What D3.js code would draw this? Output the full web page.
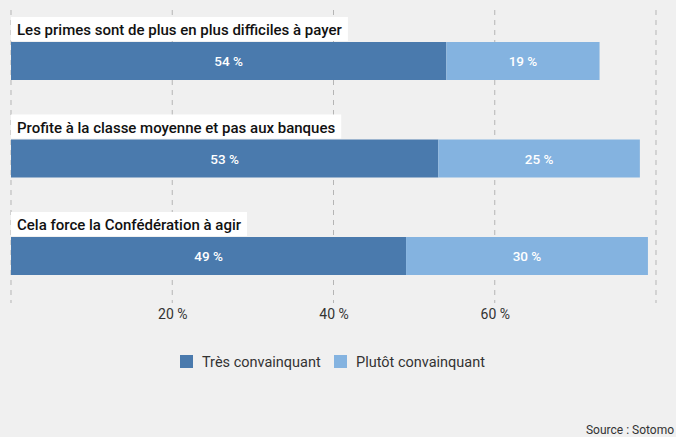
<!DOCTYPE html>
<html><head><meta charset="utf-8">
<script src="https://cdn.jsdelivr.net/npm/d3@7"></script>
<style>
html,body{margin:0;padding:0;background:#f0f0f0;}
svg{display:block;font-family:Roboto,"Noto Sans",sans-serif;}
</style></head>
<body><svg id="c" width="676" height="437"></svg>
<script>
const categories = ["Les primes sont de plus en plus difficiles à payer","Profite à la classe moyenne et pas aux banques","Cela force la Confédération à agir"];
const tresValues = [54, 53, 49];
const plutotValues = [19, 25, 30];
const seriesNames = ["Très convainquant","Plutôt convainquant"];
const tickValues = [20, 40, 60];
const gridValues = [0, 20, 40, 60, 80];
const colors = ["#4a7aad","#84b3e0"];

const svg = d3.select("#c");
svg.append("rect").attr("width",676).attr("height",437).attr("fill","#f0f0f0");
const x = d3.scaleLinear().domain([0,80]).range([11,656]);
const y = d3.scaleBand().domain(categories).range([16,308.5]).paddingInner(0).paddingOuter(0);

// grid
svg.append("g").selectAll("line").data(gridValues).join("line")
  .attr("x1",d=>x(d)).attr("x2",d=>x(d)).attr("y1",10).attr("y2",303)
  .attr("stroke","#b5b5b5").attr("stroke-width",1).attr("stroke-dasharray","5,5");

// axis tick labels
const ax = d3.axisBottom(x).tickValues(tickValues).tickFormat(d=>d+" %").tickSize(0);
const axg = svg.append("g").attr("transform","translate(0,306)").call(ax);
axg.select(".domain").remove();
axg.selectAll("text").attr("font-size",14).attr("fill","#333").attr("font-family","Roboto,sans-serif");

const rows = svg.append("g").selectAll("g").data(categories).join("g")
  .attr("transform",d=>`translate(0,${y(d)})`);

// label boxes
rows.each(function(d,i){
  const g = d3.select(this);
  const t = g.append("text").attr("x",17).attr("y",19).text(d)
    .attr("font-size",15).attr("font-weight",500).attr("fill","#111");
  const w = t.node().getComputedTextLength();
  g.insert("rect","text").attr("x",11).attr("y",1).attr("width",w+12).attr("height",24).attr("fill","#fff");
});

// bars
rows.append("rect").attr("x",x(0)).attr("y",26).attr("height",38)
  .attr("width",(d,i)=>x(tresValues[i])-x(0)).attr("fill",colors[0]);
rows.append("rect").attr("x",(d,i)=>x(tresValues[i])).attr("y",26).attr("height",38)
  .attr("width",(d,i)=>x(tresValues[i]+plutotValues[i])-x(tresValues[i])).attr("fill",colors[1]);
rows.append("text").attr("x",(d,i)=>(x(0)+x(tresValues[i]))/2).attr("y",50)
  .attr("text-anchor","middle").attr("font-size",13.5).attr("font-weight",500).attr("fill","#fff")
  .text((d,i)=>tresValues[i]+" %");
rows.append("text").attr("x",(d,i)=>(x(tresValues[i])+x(tresValues[i]+plutotValues[i]))/2).attr("y",50)
  .attr("text-anchor","middle").attr("font-size",13.5).attr("font-weight",500).attr("fill","#fff")
  .text((d,i)=>plutotValues[i]+" %");

// legend
const legX = [180, 334];
const lg = svg.append("g").selectAll("g").data(seriesNames).join("g")
  .attr("transform",(d,i)=>`translate(${legX[i]},355)`);
lg.append("rect").attr("width",13).attr("height",13).attr("fill",(d,i)=>colors[i]);
lg.append("text").attr("x",22).attr("y",12).attr("font-size",14.5).attr("fill","#333").text(d=>d);

svg.append("text").attr("x",674).attr("y",434).attr("text-anchor","end").attr("font-size",12).attr("fill","#333").text("Source : Sotomo");
</script></body></html>
